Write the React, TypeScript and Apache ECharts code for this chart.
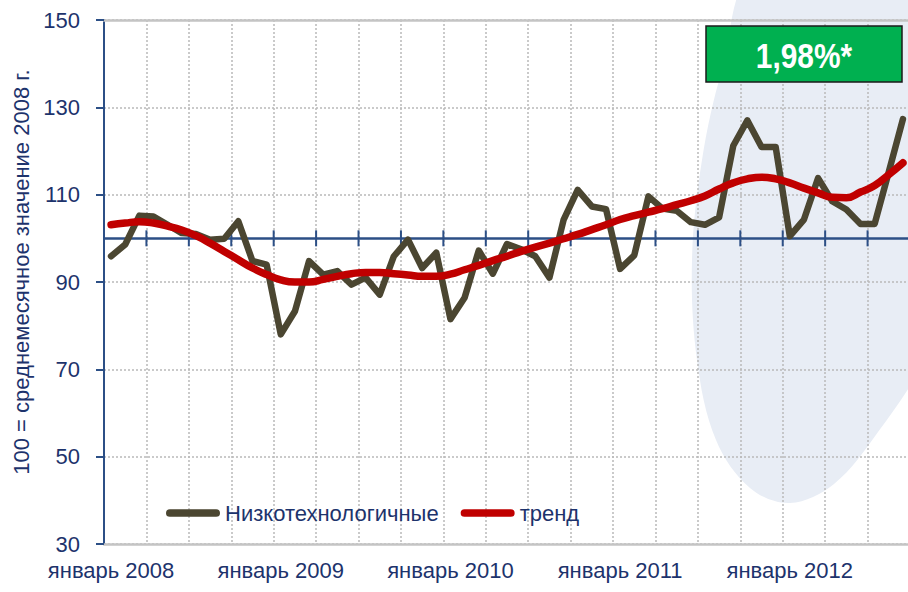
import React, { useEffect, useRef } from "react";
import * as echarts from "echarts";

const monthNames = [
  "январь", "февраль", "март", "апрель", "май", "июнь",
  "июль", "август", "сентябрь", "октябрь", "ноябрь", "декабрь",
];
const years = [2008, 2009, 2010, 2011, 2012];
const monthCount = 57; // январь 2008 — сентябрь 2012
const categories = years
  .flatMap((y) => monthNames.map((m) => `${m} ${y}`))
  .slice(0, monthCount);

const lowTech = [
  95.9, 98.6, 105.2, 105.0, 103.1, 101.2, 101.0, 99.7, 99.9, 103.9, 94.8, 94.0,
  78.0, 83.3, 94.8, 91.7, 92.5, 89.4, 91.0, 87.1, 95.9, 99.7, 93.2, 96.7,
  81.5, 86.4, 97.2, 91.9, 98.7, 97.5, 95.9, 91.0, 104.2, 111.1, 107.3, 106.7,
  93.0, 96.1, 109.6, 106.8, 106.3, 103.7, 103.1, 104.8, 121.2, 127.0, 120.9, 120.9,
  100.5, 104.3, 113.8, 108.5, 106.6, 103.3, 103.3, 115.2, 127.3,
];

const trend = [
  103.1, 103.5, 103.8, 103.5, 102.8, 101.9, 100.6, 98.9, 97.0, 95.1, 93.2, 91.7,
  90.5, 90.0, 90.0, 90.6, 91.3, 91.9, 92.2, 92.2, 91.9, 91.6, 91.3, 91.3,
  91.8, 92.8, 93.8, 94.9, 95.9, 97.0, 98.0, 98.9, 99.9, 100.9, 102.0, 103.1,
  104.3, 105.2, 106.0, 106.8, 107.7, 108.6, 109.7, 111.3, 112.7, 113.6, 114.0, 113.6,
  112.7, 111.5, 110.4, 109.4, 109.3, 110.6, 112.1, 114.6, 117.3,
];

const yTicks = { min: 30, max: 150, interval: 20 };
const baseLevel = 100;
const quarterStep = 3;
const seriesNames = ["Низкотехнологичные", "тренд"];
const yAxisTitle = "100 = среднемесячное значение 2008 г.";
const badgeText = "1,98%*";

// quarter starts on the 100 line, where the crossing tick marks sit
const quarterTicks = categories
  .filter((_, i) => i % quarterStep === 0)
  .map((c) => [c, baseLevel]);

const NAVY_TEXT = "#1d336c";
const NAVY_LINE = "#2c4f86";
const GRID_GRAY = "#b9b9b9";
const FONT = "'Liberation Sans', Arial, sans-serif";

export default function App() {
  const ref = useRef<HTMLDivElement>(null);

  useEffect(() => {
    if (!ref.current) return;
    const chart = echarts.init(ref.current, undefined, { renderer: "svg" });

    const capsule = "path://M4,0 L52,0 A4,4 0 0 1 52,8 L4,8 A4,4 0 0 1 4,0 Z";
    const tickHalf = 8;

    chart.setOption({
      animation: false,
      backgroundColor: "#ffffff",
      textStyle: { fontFamily: FONT },
      grid: {
        left: 104,
        top: 20,
        width: 806,
        height: 524,
        containLabel: false,
        outerBoundsMode: "none",
      },
      graphic: [
        {
          type: "polygon",
          z: -100,
          silent: true,
          shape: {
            points: [
              [758, -30], [722, 70], [702, 160], [692, 260], [697, 360],
              [716, 440], [750, 488], [790, 503], [834, 484], [878, 432],
              [925, 360], [1000, 200], [960, -40],
            ],
            smooth: 0.35,
          },
          style: { fill: "#e8edf5" },
        },
        {
          type: "rect",
          z: 100,
          shape: { x: 706, y: 26, width: 196, height: 56 },
          style: { fill: "#00b050", stroke: "#1a1a1a", lineWidth: 1.5 },
        },
        {
          type: "text",
          z: 101,
          x: 804,
          y: 55,
          scaleX: 0.83,
          style: {
            text: badgeText,
            fill: "#ffffff",
            fontFamily: FONT,
            fontWeight: "bold",
            fontSize: 36,
            align: "center",
            verticalAlign: "middle",
          },
        },
      ],
      legend: {
        left: 161,
        top: 497,
        itemWidth: 54,
        itemHeight: 8,
        itemGap: 22,
        icon: capsule,
        textStyle: { color: NAVY_TEXT, fontSize: 22, fontFamily: FONT },
        data: seriesNames,
      },
      xAxis: [
        {
          type: "category",
          data: categories,
          position: "bottom",
          boundaryGap: true,
          axisLine: { show: true, lineStyle: { color: "#c4c4c4", width: 2.5 } },
          axisTick: { show: false },
          axisLabel: {
            interval: 11,
            color: NAVY_TEXT,
            fontSize: 22,
            fontFamily: FONT,
            margin: 15,
          },
          splitLine: {
            show: true,
            interval: quarterStep - 1,
            lineStyle: { color: GRID_GRAY, width: 1.5, type: [2, 2] },
          },
        },
        {
          type: "category",
          data: categories,
          position: "top",
          boundaryGap: true,
          axisLine: { show: true, lineStyle: { color: "#c4c4c4", width: 2.5 } },
          axisTick: { show: false },
          axisLabel: { show: false },
          splitLine: { show: false },
        },
      ],
      yAxis: {
        type: "value",
        min: yTicks.min,
        max: yTicks.max,
        interval: yTicks.interval,
        name: yAxisTitle,
        nameLocation: "middle",
        nameGap: 72,
        nameTextStyle: {
          color: NAVY_TEXT,
          fontSize: 22,
          fontFamily: FONT,
          padding: [0, 0, 0, 20],
        },
        axisLine: { show: true, lineStyle: { color: NAVY_LINE, width: 2 } },
        axisTick: { show: true, length: 8, lineStyle: { color: NAVY_LINE, width: 2 } },
        axisLabel: { color: NAVY_TEXT, fontSize: 22, fontFamily: FONT, margin: 24 },
        splitLine: {
          show: true,
          lineStyle: { color: GRID_GRAY, width: 1.5, type: [2, 2] },
        },
      },
      series: [
        {
          type: "custom",
          silent: true,
          xAxisIndex: 0,
          yAxisIndex: 0,
          data: quarterTicks,
          z: 2,
          renderItem: (_params: any, api: any) => {
            const pt = api.coord([api.value(0), api.value(1)]);
            const band = api.size([1, 0])[0];
            const x = pt[0] - band / 2;
            return {
              type: "line",
              shape: { x1: x, y1: pt[1] - tickHalf, x2: x, y2: pt[1] + tickHalf },
              style: { stroke: NAVY_LINE, lineWidth: 2 },
            };
          },
        },
        {
          name: seriesNames[0],
          type: "line",
          data: lowTech,
          showSymbol: false,
          symbol: "none",
          lineStyle: { color: "#4b4631", width: 6.5, cap: "round", join: "round" },
          itemStyle: { color: "#4b4631" },
          z: 3,
          markLine: {
            silent: true,
            symbol: "none",
            label: { show: false },
            lineStyle: { color: NAVY_LINE, width: 2.5, type: "solid" },
            data: [{ yAxis: baseLevel }],
            z: 1,
          },
        },
        {
          name: seriesNames[1],
          type: "line",
          data: trend,
          smooth: true,
          showSymbol: false,
          symbol: "none",
          lineStyle: { color: "#c00000", width: 7.5, cap: "round", join: "round" },
          itemStyle: { color: "#c00000" },
          z: 4,
        },
      ],
    });

    return () => chart.dispose();
  }, []);

  return (
    <div
      ref={ref}
      style={{ position: "fixed", left: 0, top: 0, width: 908, height: 592 }}
    />
  );
}
